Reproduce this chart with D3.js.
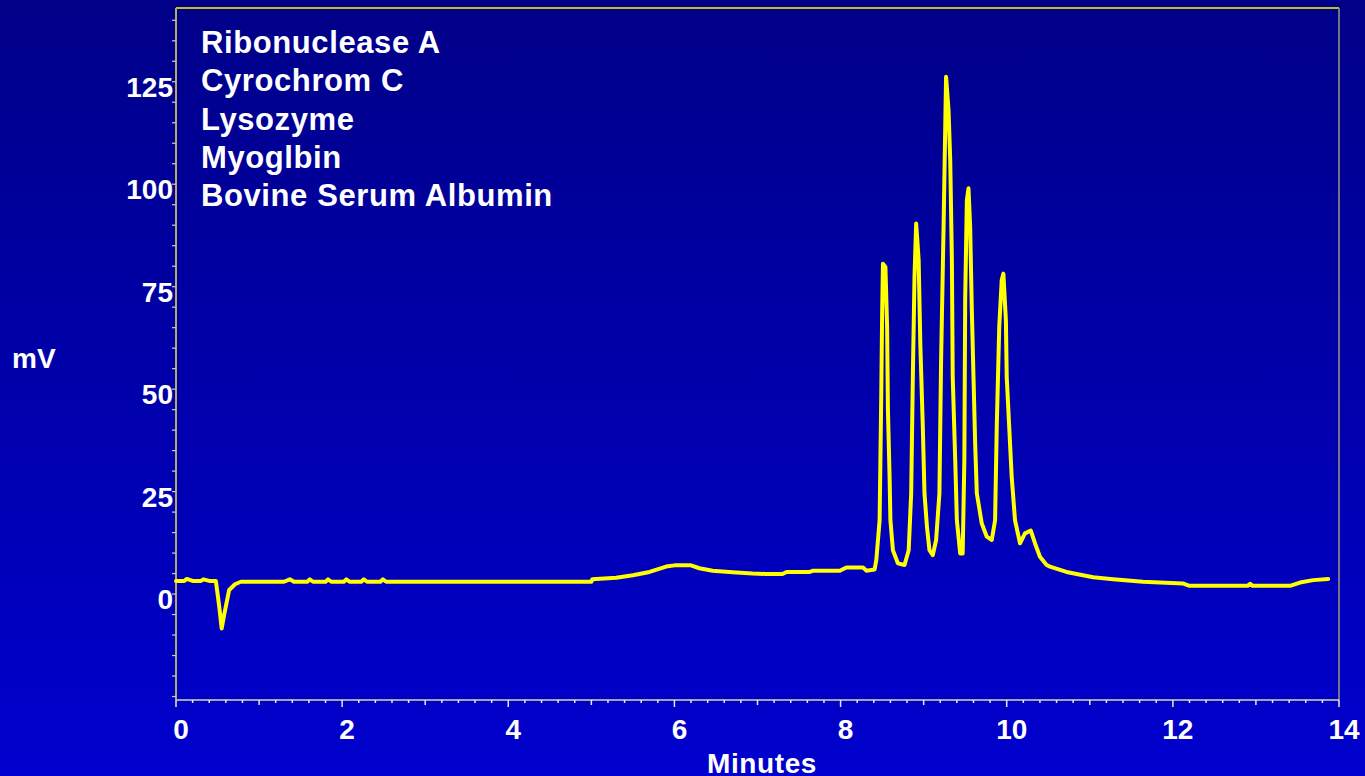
<!DOCTYPE html>
<html>
<head>
<meta charset="utf-8">
<script src="https://cdn.jsdelivr.net/npm/d3@7"></script>
<style>
  html, body { margin: 0; padding: 0; overflow: hidden; }
  svg { display: block; font-family: Arial, "Liberation Sans", sans-serif; font-weight: bold; }
</style>
</head>
<body>
<svg id="chart" width="1365" height="776"></svg>
<script>
// ========== DATA ==========
const proteins = ["Ribonuclease A", "Cyrochrom C", "Lysozyme", "Myoglbin", "Bovine Serum Albumin"];

const xTicks = [0, 2, 4, 6, 8, 10, 12, 14];
const yTicks = [0, 25, 50, 75, 100, 125];

// retention time (minutes) / detector signal (mV)
const minutes = [
  0, 0.1, 0.13, 0.2, 0.3, 0.33, 0.4, 0.48, 0.52, 0.55, 0.58, 0.64, 0.71, 0.78,
  1.3, 1.37, 1.42, 1.58, 1.61, 1.65, 1.8, 1.83, 1.87, 2.02, 2.05, 2.09, 2.23, 2.26, 2.3, 2.46, 2.49, 2.53,
  5.0, 5.01, 5.3, 5.5, 5.7, 5.9, 6.0, 6.2, 6.3, 6.46, 6.7, 6.94, 7.1, 7.3, 7.35, 7.63, 7.67, 7.99, 8.07, 8.27, 8.31, 8.41,
  8.43, 8.47, 8.49, 8.50, 8.51, 8.54, 8.56, 8.57, 8.59, 8.60, 8.63, 8.69, 8.77, 8.82,
  8.85, 8.87, 8.89, 8.91, 8.94, 8.96, 8.99, 9.01, 9.04, 9.07, 9.11, 9.15,
  9.19, 9.21, 9.24, 9.26, 9.27, 9.30, 9.32, 9.34, 9.35, 9.38, 9.40, 9.44, 9.47,
  9.49, 9.50, 9.52, 9.54, 9.56, 9.58, 9.60, 9.62, 9.64, 9.70, 9.76, 9.82, 9.86,
  9.88, 9.91, 9.94, 9.96, 9.99, 10.00, 10.03, 10.06, 10.10, 10.16, 10.22, 10.29, 10.34, 10.40,
  10.48, 10.52, 10.72, 11.04, 11.28, 11.64, 12.12, 12.20, 12.9, 12.93, 12.96, 13.41, 13.53, 13.69, 13.87
];
const signal = [
  3.2, 3.2, 3.7, 3.2, 3.2, 3.6, 3.2, 3.2, -3, -8.4, -5, 1, 2.4, 3.0,
  3.0, 3.6, 3.0, 3.0, 3.6, 3.0, 3.0, 3.6, 3.0, 3.0, 3.6, 3.0, 3.0, 3.6, 3.0, 3.0, 3.6, 3.0,
  3.0, 3.6, 4.0, 4.6, 5.4, 6.7, 7.0, 7.0, 6.3, 5.7, 5.3, 5.0, 4.9, 4.9, 5.4, 5.4, 5.7, 5.7, 6.5, 6.5, 5.7, 6.0,
  8.3, 18, 49, 67.6, 80.6, 79.8, 65.2, 44.9, 28.6, 18, 10.7, 7.5, 7.1, 10.7,
  24.6, 53, 77.4, 90.4, 81.5, 61, 40.8, 24.6, 16.4, 10.7, 9.5, 13.2,
  24.6, 57, 89.6, 114, 126.2, 118, 105.9, 81.5, 53, 32.7, 18, 9.9, 9.9,
  32.7, 71.7, 96, 99, 89.6, 69.3, 53, 36.8, 24.6, 17.2, 14, 13.2, 18,
  40.8, 65.2, 76.6, 78.2, 66.8, 53, 40.8, 28.6, 18, 12.4, 14.8, 15.5, 12.4, 9.1,
  7.1, 6.7, 5.4, 4.1, 3.6, 3.0, 2.6, 2.0, 2.0, 2.5, 2.0, 2.0, 2.8, 3.4, 3.7
];

const data = minutes.map((t, i) => ({ t, v: signal[i] }));

// ========== LAYOUT ==========
const svg = d3.select("#chart");
const W = 1365, H = 776;
const plot = { left: 176, top: 8, right: 1339, bottom: 700 };

const x = d3.scaleLinear().domain([0, 14]).range([plot.left, plot.right]);
const y = d3.scaleLinear().domain([-25.85, 143]).range([plot.bottom, plot.top]);

// background gradient (dark navy at top, brighter blue at bottom)
const defs = svg.append("defs");
const grad = defs.append("linearGradient")
  .attr("id", "bg").attr("x1", 0).attr("y1", 0).attr("x2", 0).attr("y2", 1);
grad.append("stop").attr("offset", "0%").attr("stop-color", "#000088");
grad.append("stop").attr("offset", "100%").attr("stop-color", "#0000CE");

svg.append("rect").attr("width", W).attr("height", H).attr("fill", "url(#bg)");

// frame: yellow top, grey right
svg.append("line")
  .attr("x1", plot.left).attr("x2", plot.right)
  .attr("y1", plot.top).attr("y2", plot.top)
  .attr("stroke", "#FFFF00").attr("stroke-width", 1.5);
svg.append("line")
  .attr("x1", plot.right).attr("x2", plot.right)
  .attr("y1", plot.top).attr("y2", plot.bottom)
  .attr("stroke", "#9a9a78").attr("stroke-width", 1.5);

// ========== X AXIS ==========
const xMinor = d3.range(0, 14.001, 0.2);
const xAxisG = svg.append("g");
xAxisG.append("line")
  .attr("x1", plot.left).attr("x2", plot.right)
  .attr("y1", plot.bottom).attr("y2", plot.bottom)
  .attr("stroke", "#d8d8a8").attr("stroke-width", 1.5);
xAxisG.selectAll(".xminor")
  .data(xMinor)
  .join("line")
  .attr("x1", d => x(d)).attr("x2", d => x(d))
  .attr("y1", plot.bottom)
  .attr("y2", d => {
    const r = Math.round(d * 10) / 10;
    if (r % 2 === 0) return plot.bottom + 7;
    if (Number.isInteger(r)) return plot.bottom + 5;
    return plot.bottom + 3;
  })
  .attr("stroke", "#e8e8e8").attr("stroke-width", 1.5);
xAxisG.selectAll(".xlabel")
  .data(xTicks)
  .join("text")
  .attr("x", d => x(d) + 5)
  .attr("y", 739)
  .attr("text-anchor", "middle")
  .attr("fill", "#ffffff")
  .attr("font-size", 28)
  .text(d => d);

svg.append("text")
  .attr("x", 762).attr("y", 773)
  .attr("text-anchor", "middle")
  .attr("fill", "#ffffff")
  .attr("font-size", 28)
  .attr("letter-spacing", 0.6)
  .text("Minutes");

// ========== Y AXIS ==========
const yMinor = d3.range(-25, 141, 5);
const yAxisG = svg.append("g");
yAxisG.append("line")
  .attr("x1", plot.left).attr("x2", plot.left)
  .attr("y1", plot.top).attr("y2", plot.bottom)
  .attr("stroke", "#b0ac60").attr("stroke-width", 2);
yAxisG.selectAll(".yminor")
  .data(yMinor)
  .join("line")
  .attr("x1", plot.left - 4).attr("x2", plot.left)
  .attr("y1", d => y(d)).attr("y2", d => y(d))
  .attr("stroke", "#c8c8d8").attr("stroke-width", 1.2);
yAxisG.selectAll(".ylabel")
  .data(yTicks)
  .join("text")
  .attr("x", 173)
  .attr("y", d => y(d) + 15)
  .attr("text-anchor", "end")
  .attr("fill", "#ffffff")
  .attr("font-size", 28)
  .text(d => d);

svg.append("text")
  .attr("x", 12).attr("y", 368)
  .attr("fill", "#ffffff")
  .attr("font-size", 28)
  .text("mV");

// ========== TRACE ==========
const line = d3.line()
  .x(d => x(d.t))
  .y(d => y(d.v));

svg.append("path")
  .datum(data)
  .attr("d", line)
  .attr("fill", "none")
  .attr("stroke", "#FFFF00")
  .attr("stroke-width", 4)
  .attr("stroke-linejoin", "round")
  .attr("stroke-linecap", "round");

// ========== LEGEND TEXT ==========
svg.append("g")
  .selectAll("text")
  .data(proteins)
  .join("text")
  .attr("x", 201)
  .attr("y", (d, i) => 53 + i * 38.3)
  .attr("fill", "#ffffff")
  .attr("font-size", 31)
  .attr("letter-spacing", 0.6)
  .text(d => d);
</script>
</body>
</html>
